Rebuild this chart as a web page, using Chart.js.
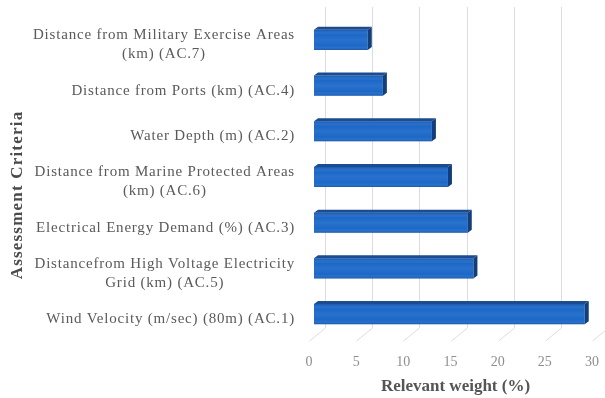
<!DOCTYPE html>
<html>
<head>
<meta charset="utf-8">
<script src="https://cdn.jsdelivr.net/npm/chart.js@4.4.1/dist/chart.umd.min.js"></script>
<style>
  html, body { margin: 0; padding: 0; background: #ffffff; }
  #wrap { width: 605px; height: 398px; position: relative; }
</style>
</head>
<body>
<div id="wrap"><canvas id="chart"></canvas></div>
<script>
// Assessment criteria, top to bottom (multi-line labels are arrays)
const criteria = [
  ['Distance from Military Exercise Areas', '(km) (AC.7)'],
  ['Distance from Ports (km) (AC.4)'],
  ['Water Depth (m) (AC.2)'],
  ['Distance from Marine Protected Areas', '(km) (AC.6)'],
  ['Electrical Energy Demand (%) (AC.3)'],
  ['Distancefrom High Voltage Electricity', 'Grid (km) (AC.5)'],
  ['Wind Velocity (m/sec) (80m) (AC.1)']
];
// Relevant weight of each criterion (%)
const weights = [5.7, 7.3, 12.5, 14.2, 16.3, 16.9, 28.7];
// Value axis ticks
const weightTicks = [0, 5, 10, 15, 20, 25, 30];

const yAxisTitle = 'Assessment Criteria';
const xAxisTitle = 'Relevant weight (%)';

const SERIF = '"Liberation Serif", "Times New Roman", serif';
const FACE = '#1c68c8';
const TOP = '#1b4c92';
const SIDE = '#143e7a';
const GRID = '#dcdcdc';

// Pseudo-3D depth of the bars and of the back wall
const BAR_DX = 4, BAR_DY = -3;
const WALL_DX = 11, WALL_DY = -9;
const FLOOR_DX = -5, FLOOR_DY = 4;

const depthPlugin = {
  id: 'depth3d',
  beforeDatasetsDraw(chart) {
    const { ctx, chartArea, scales: { x } } = chart;
    ctx.save();
    ctx.strokeStyle = GRID;
    ctx.lineWidth = 1;
    weightTicks.forEach(v => {
      const px = Math.round(x.getPixelForValue(v)) + 0.5;
      // wall gridline
      ctx.beginPath();
      ctx.moveTo(px + WALL_DX, chartArea.top - 10);
      ctx.lineTo(px + WALL_DX, chartArea.bottom + WALL_DY);
      ctx.stroke();
      // floor line
      ctx.beginPath();
      ctx.moveTo(px + FLOOR_DX, chartArea.bottom + FLOOR_DY);
      ctx.lineTo(px + WALL_DX, chartArea.bottom + WALL_DY);
      ctx.stroke();
    });
    ctx.restore();
  },
  afterDatasetsDraw(chart) {
    const { ctx } = chart;
    const meta = chart.getDatasetMeta(0);
    ctx.save();
    meta.data.forEach(bar => {
      const p = bar.getProps(['x', 'y', 'base', 'height'], true);
      const t = p.y - p.height / 2, b = p.y + p.height / 2;
      // soft shading on the front face
      const g = ctx.createLinearGradient(0, t, 0, b);
      g.addColorStop(0, 'rgba(10,40,100,0.25)');
      g.addColorStop(0.25, 'rgba(255,255,255,0)');
      g.addColorStop(0.5, 'rgba(255,255,255,0.06)');
      g.addColorStop(0.8, 'rgba(255,255,255,0)');
      g.addColorStop(1, 'rgba(10,40,100,0.25)');
      ctx.fillStyle = g;
      ctx.fillRect(p.base, t, p.x - p.base, b - t);
      // top face
      ctx.fillStyle = TOP;
      ctx.beginPath();
      ctx.moveTo(p.base, t);
      ctx.lineTo(p.x, t);
      ctx.lineTo(p.x + BAR_DX, t + BAR_DY);
      ctx.lineTo(p.base + BAR_DX, t + BAR_DY);
      ctx.closePath();
      ctx.fill();
      // side face
      ctx.fillStyle = SIDE;
      ctx.beginPath();
      ctx.moveTo(p.x, t);
      ctx.lineTo(p.x + BAR_DX, t + BAR_DY);
      ctx.lineTo(p.x + BAR_DX, b + BAR_DY);
      ctx.lineTo(p.x, b);
      ctx.closePath();
      ctx.fill();
    });
    ctx.restore();
  },
  afterDraw(chart) {
    const { ctx, chartArea, scales: { y } } = chart;
    ctx.save();
    // category labels: block right-aligned, lines centred within the block
    ctx.font = '15px ' + SERIF;
    ctx.letterSpacing = '0.8px';
    ctx.fillStyle = '#5a5a5a';
    ctx.textAlign = 'center';
    ctx.textBaseline = 'middle';
    const right = chartArea.left - 19;
    const lh = 19;
    criteria.forEach((lines, i) => {
      const cy = y.getPixelForValue(i) + 5;
      const w = Math.max(...lines.map(l => ctx.measureText(l).width));
      const cx = right - w / 2;
      const y0 = cy - (lines.length - 1) * lh / 2;
      lines.forEach((l, k) => ctx.fillText(l, cx, y0 + k * lh));
    });
    // vertical axis title
    ctx.font = 'bold 17px ' + SERIF;
    ctx.letterSpacing = '1.2px';
    ctx.fillStyle = '#4a4a4a';
    ctx.translate(18, 195);
    ctx.rotate(-Math.PI / 2);
    ctx.fillText(yAxisTitle, 0, 0);
    ctx.restore();
  }
};

new Chart(document.getElementById('chart'), {
  type: 'bar',
  data: {
    labels: criteria,
    datasets: [{
      data: weights,
      backgroundColor: FACE,
      borderWidth: 0,
      categoryPercentage: 1,
      barPercentage: 0.44
    }]
  },
  options: {
    indexAxis: 'y',
    responsive: true,
    maintainAspectRatio: false,
    animation: false,
    layout: { padding: { top: 17, right: 8, bottom: 0, left: 0 } },
    plugins: { legend: { display: false }, tooltip: { enabled: false } },
    scales: {
      x: {
        min: 0, max: 30,
        afterBuildTicks(scale) { scale.ticks = weightTicks.map(v => ({ value: v })); },
        afterFit(scale) {
          scale.height = 61;
          scale.paddingLeft = 0;
          scale.paddingRight = 0;
        },
        grid: { display: false },
        border: { display: false },
        ticks: { color: '#8e8e8e', font: { family: SERIF, size: 14 }, padding: 9, labelOffset: -5 },
        title: { display: true, text: xAxisTitle, color: '#555555', font: { family: SERIF, size: 17, weight: 'bold' }, padding: { top: 2, bottom: 1 } }
      },
      y: {
        grid: { display: false },
        border: { display: false },
        ticks: { display: false },
        afterFit(scale) { scale.width = 314; }
      }
    }
  },
  plugins: [depthPlugin]
});
</script>
</body>
</html>
